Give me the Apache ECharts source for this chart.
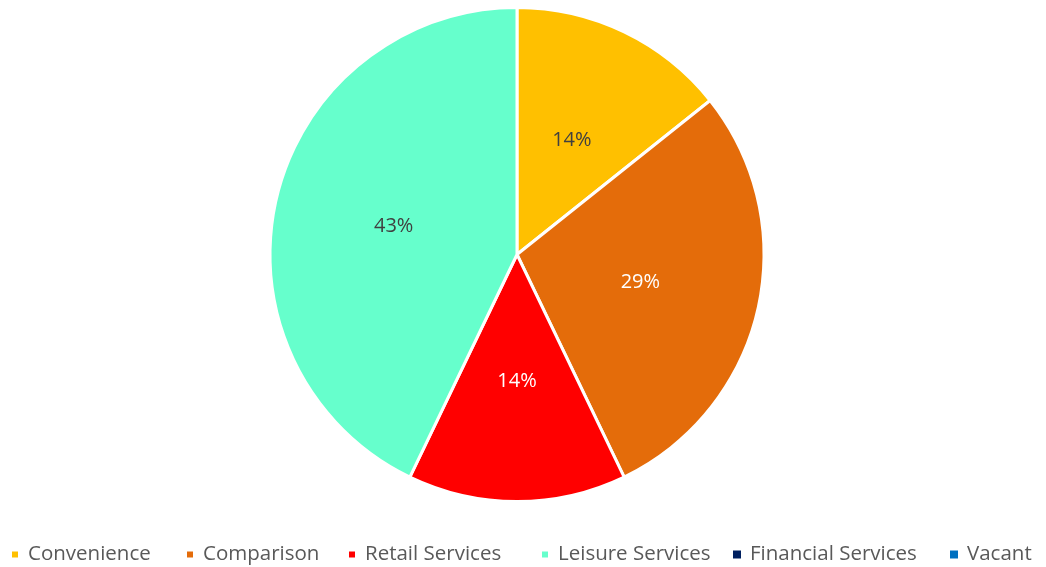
<!DOCTYPE html>
<html>
<head>
<meta charset="utf-8">
<script src="https://cdn.jsdelivr.net/npm/echarts@6/dist/echarts.min.js"></script>
<style>
html,body{margin:0;padding:0;background:#fff;}
#chart{width:1046px;height:567px;}
</style>
</head>
<body>
<div id="chart"></div>
<script>
const categories = ['Convenience', 'Comparison', 'Retail Services', 'Leisure Services', 'Financial Services', 'Vacant'];
const values = [1, 2, 1, 3, 0, 0];
const colors = ['#FFC000', '#E46C0A', '#FF0000', '#66FFCC', '#002060', '#0070C0'];
const labelColors = ['#404040', '#FFFFFF', '#FFFFFF', '#404040', '#FFFFFF', '#FFFFFF'];
const legendLeft = [10, 185, 347, 540, 733, 950];

const chart = echarts.init(document.getElementById('chart'));
const data = categories.map((name, i) => ({
  name: name,
  value: values[i],
  itemStyle: { color: colors[i], borderWidth: values[i] === 0 ? 0 : 3, borderColor: '#fff' },
  label: { show: values[i] !== 0, color: labelColors[i] }
}));
const legends = categories.map((name, i) => ({
  data: [name],
  left: legendLeft[i],
  top: 544,
  padding: 0,
  orient: 'horizontal',
  itemWidth: 8,
  itemHeight: 8,
  icon: 'rect',
  selectedMode: false,
  textStyle: { fontFamily: 'Open Sans', fontSize: 20.5, color: '#595959', padding: [0, 0, 0, 4] }
}));
chart.setOption({
  animation: false,
  color: colors,
  legend: legends,
  series: [{
    type: 'pie',
    center: [517, 254.5],
    radius: [0, 247],
    startAngle: 90,
    clockwise: true,
    percentPrecision: 0,
    avoidLabelOverlap: false,
    label: {
      position: 'inside',
      formatter: '{d}%',
      fontFamily: 'Open Sans',
      fontSize: 20
    },
    labelLine: { show: false },
    emphasis: { disabled: true },
    data: data
  }]
});
</script>
</body>
</html>
